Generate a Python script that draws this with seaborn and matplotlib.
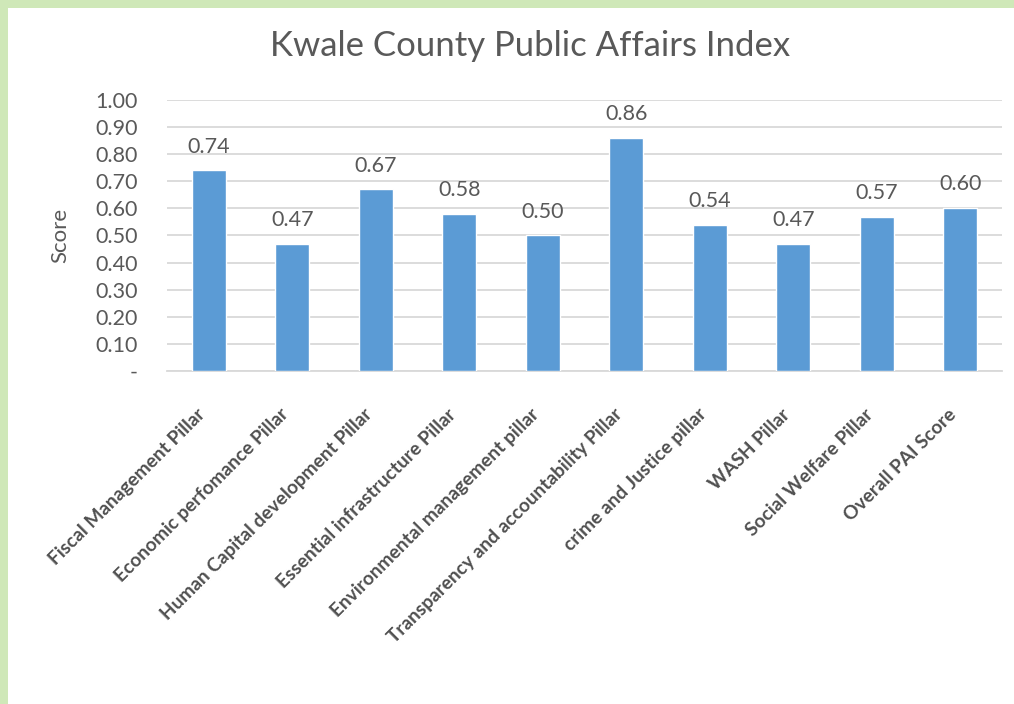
import numpy as np
import pandas as pd
import matplotlib
matplotlib.use("Agg")
import matplotlib.pyplot as plt
import matplotlib.transforms as mtransforms
import seaborn as sns
from matplotlib.patches import Rectangle

pillars = ['Fiscal Management Pillar', 'Economic perfomance Pillar',
           'Human Capital development Pillar', 'Essential infrastructure Pillar',
           'Environmental management pillar', 'Transparency and accountability Pillar',
           'crime and Justice pillar', 'WASH Pillar', 'Social Welfare Pillar',
           'Overall PAI Score']
scores = [0.74, 0.47, 0.67, 0.58, 0.50, 0.86, 0.54, 0.47, 0.57, 0.60]
yticks = [0.0, 0.1, 0.2, 0.3, 0.4, 0.5, 0.6, 0.7, 0.8, 0.9, 1.0]

df = pd.DataFrame({'Pillar': pillars, 'Score': scores})

sns.set_style("white")
plt.rcParams['font.family'] = ['Lato', 'DejaVu Sans']
txt = '#595959'

fig = plt.figure(figsize=(10.14, 7.04), dpi=100)
fig.patch.set_facecolor('#cfe8b8')
# white card, green strip only on top and left
fig.add_artist(Rectangle((8 / 1014, 0), 1, 1 - 8 / 704, transform=fig.transFigure,
                         facecolor='white', edgecolor='none', zorder=-10))

ax = fig.add_axes([0.1647, 0.473, 0.8235, 0.385])
ax.set_facecolor('none')
sns.barplot(data=df, x='Pillar', y='Score', color='#5B9BD5', width=0.41,
            saturation=1, ax=ax, zorder=3)

ax.bar_label(ax.containers[0], labels=[f'{v:.2f}' for v in scores],
             padding=10, fontsize=15.5, color=txt)

ax.set_ylim(0, 1.0)
ax.set_xlim(-0.5, len(pillars) - 0.5)
ax.set_yticks(yticks)
ax.set_yticklabels(['-'] + [f'{v:.2f}' for v in yticks[1:]], fontsize=15.5, color=txt)
ax.yaxis.grid(True, color='#d9d9d9', linewidth=1.3, zorder=0)
ax.set_axisbelow(True)
for s in ['top', 'right', 'left']:
    ax.spines[s].set_visible(False)
ax.spines['bottom'].set_color('#d9d9d9')
ax.spines['bottom'].set_linewidth(1.3)
ax.tick_params(axis='y', length=0, pad=21)
ax.tick_params(axis='x', length=0, pad=25)

ax.set_xticks(range(len(pillars)))
ax.set_xticklabels(pillars, rotation=45, ha='right', rotation_mode='anchor',
                   fontsize=13.8, fontweight='bold', color='#505050')
shift = mtransforms.ScaledTranslation(-9 / 72, 0, fig.dpi_scale_trans)
for lab in ax.get_xticklabels():
    lab.set_transform(lab.get_transform() + shift)
ax.set_xlabel('')
ax.set_ylabel('Score', fontsize=16, color=txt, labelpad=18)

fig.text(0.523, 0.934, 'Kwale County Public Affairs Index', ha='center', va='center',
         fontsize=25, color=txt)

fig.savefig('out.png', dpi=100, facecolor=fig.get_facecolor())
